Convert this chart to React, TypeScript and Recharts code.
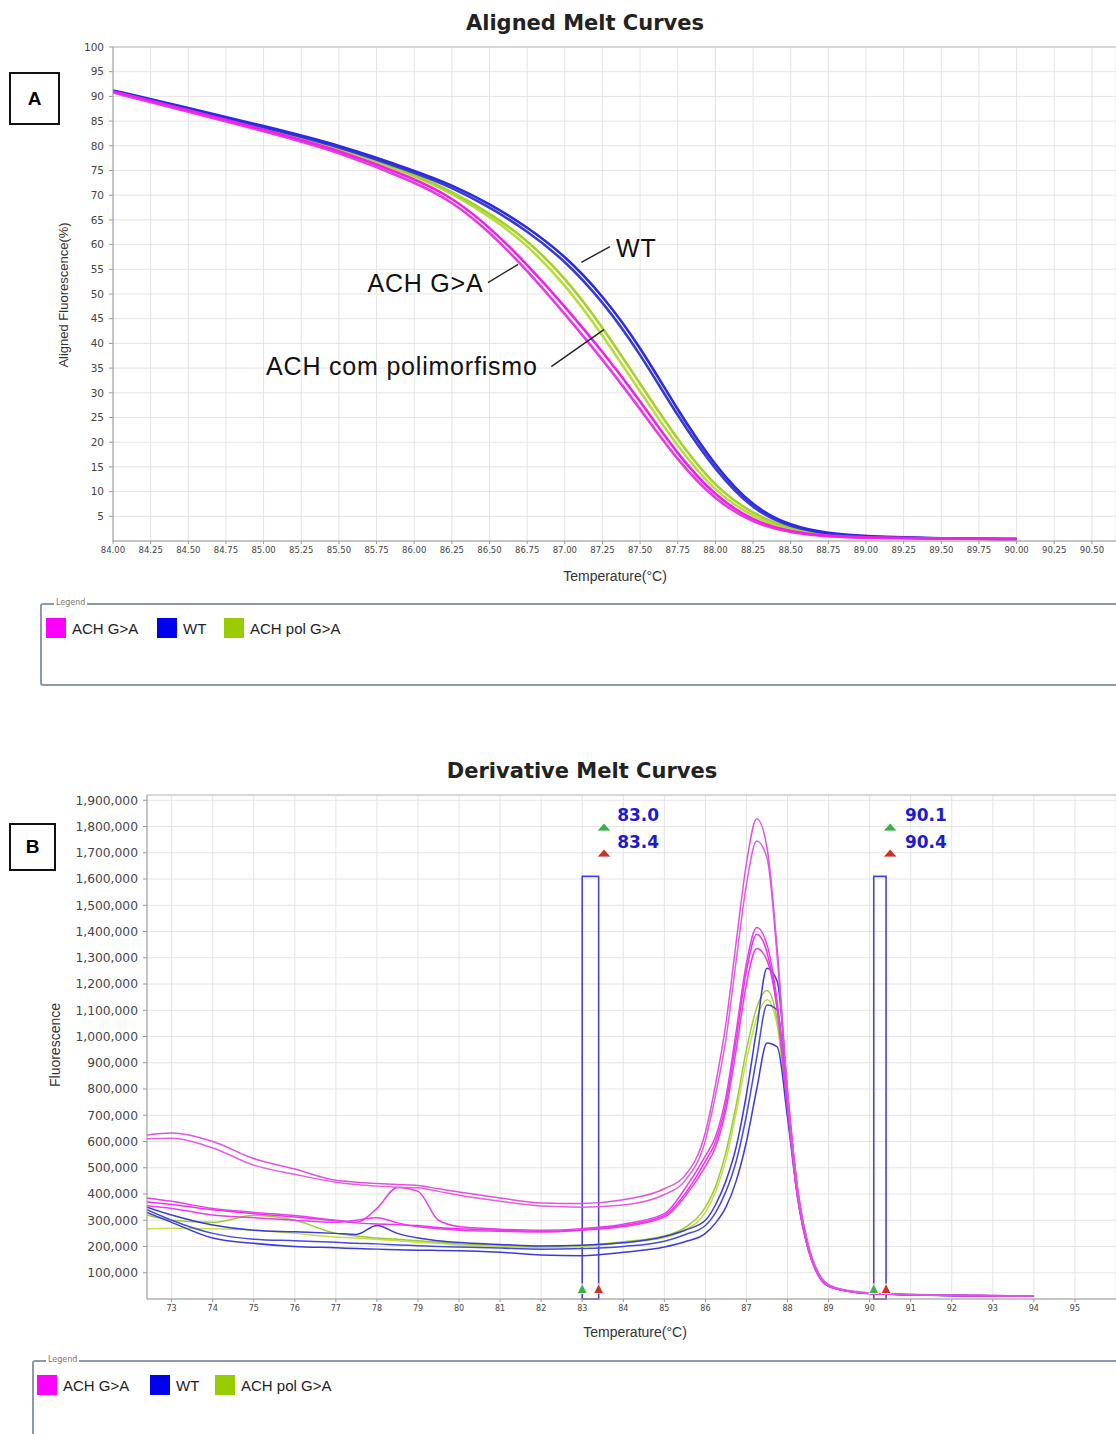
import React from "react";
import {
  LineChart,
  Line,
  XAxis,
  YAxis,
  CartesianGrid,
  ReferenceLine,
  ReferenceDot,
  ReferenceArea,
} from "recharts";

const TICK_FONT = "'DejaVu Sans', Verdana, sans-serif";
const TEXT_FONT = "'Liberation Sans', Arial, sans-serif";

const MAGENTA = "#ee22e6";
const BLUE = "#2b2be0";
const GREEN = "#a4d22a";
const MAGENTA_B = "#e640e6";
const BLUE_B = "#3c3cd4";
const GREEN_B = "#9ccc30";

// ---------- A: aligned melt curves (%) ----------
const alignedTemps = [84, 84.5, 85, 85.5, 86, 86.25, 86.5, 86.75, 87, 87.25, 87.5, 87.75, 88, 88.25, 88.5, 88.75, 89, 89.5, 90];
const alignedAch1 = [91.0, 87.2, 83.3, 79.2, 73.4, 69.6, 63.6, 56.0, 47.5, 38.4, 28.4, 17.4, 9.0, 4.0, 1.8, 1.0, 0.7, 0.5, 0.4];
const alignedAch2 = [90.8, 86.9, 83.0, 78.8, 72.7, 68.8, 62.6, 54.8, 46.0, 36.8, 26.8, 16.2, 8.2, 3.6, 1.6, 0.9, 0.6, 0.5, 0.4];
const alignedWt1 = [91.2, 87.7, 84.0, 80.2, 75.0, 72.1, 68.3, 63.6, 57.8, 49.8, 39.4, 26.4, 15.0, 6.8, 3.0, 1.5, 0.9, 0.5, 0.4];
const alignedWt2 = [91.0, 87.5, 83.8, 79.9, 74.6, 71.6, 67.6, 62.8, 56.8, 48.6, 38.0, 25.2, 14.2, 6.2, 2.7, 1.4, 0.8, 0.5, 0.4];
const alignedPol1 = [91.0, 87.4, 83.7, 79.8, 74.2, 70.8, 66.4, 61.0, 53.4, 43.4, 31.8, 20.4, 10.8, 5.4, 2.3, 1.1, 0.7, 0.5, 0.4];
const alignedPol2 = [90.9, 87.3, 83.6, 79.6, 74.0, 70.4, 65.8, 60.0, 52.0, 41.8, 30.2, 19.0, 9.8, 4.8, 2.0, 1.0, 0.7, 0.5, 0.4];

const alignedXTicks = [84, 84.25, 84.5, 84.75, 85, 85.25, 85.5, 85.75, 86, 86.25, 86.5, 86.75, 87, 87.25, 87.5, 87.75, 88, 88.25, 88.5, 88.75, 89, 89.25, 89.5, 89.75, 90, 90.25, 90.5];
const alignedYTicks = [5, 10, 15, 20, 25, 30, 35, 40, 45, 50, 55, 60, 65, 70, 75, 80, 85, 90, 95, 100];

// ---------- B: derivative melt curves (values in thousands) ----------
const derivTemps = [72.4, 73, 74, 75, 76, 77, 77.5, 78, 78.5, 79, 79.5, 80, 81, 82, 83, 84, 85, 85.5, 86, 86.25, 86.5, 86.75, 87, 87.25, 87.5, 87.75, 88, 88.25, 88.5, 88.75, 89, 89.5, 90, 91, 92, 93, 94];
const derivAch1 = [625, 632, 600, 535, 495, 452, 445, 440, 436, 432, 420, 408, 385, 366, 364, 378, 420, 470, 635, 820, 1050, 1360, 1660, 1830, 1720, 1330, 800, 420, 210, 100, 55, 32, 24, 18, 15, 13, 12];
const derivAch2 = [610, 612, 575, 510, 475, 445, 436, 430, 426, 424, 410, 395, 372, 354, 350, 358, 398, 450, 605, 780, 990, 1290, 1580, 1745, 1680, 1300, 790, 410, 205, 98, 54, 31, 23, 17, 14, 13, 12];
const derivAch3 = [385, 372, 345, 330, 318, 300, 292, 345, 425, 410, 300, 276, 266, 262, 268, 285, 325, 420, 545, 620, 770, 1020, 1280, 1415, 1350, 1130, 740, 390, 195, 92, 50, 30, 22, 16, 14, 12, 11];
const derivAch4 = [370, 360, 340, 325, 312, 298, 290, 286, 283, 280, 272, 268, 262, 258, 264, 280, 318, 400, 525, 600, 745, 990, 1250, 1390, 1320, 1110, 730, 385, 192, 90, 49, 29, 21, 16, 13, 12, 11];
const derivAch5 = [355, 345, 320, 310, 300, 292, 300, 310, 290, 275, 268, 262, 258, 255, 262, 276, 312, 390, 505, 580, 720, 950, 1200, 1335, 1290, 1100, 725, 382, 190, 89, 48, 29, 21, 16, 13, 12, 11];
const derivWt1 = [350, 320, 282, 262, 256, 250, 246, 280, 250, 232, 222, 215, 208, 202, 205, 214, 238, 262, 300, 360, 450, 580, 780, 1030, 1260, 1210, 780, 410, 205, 98, 52, 30, 22, 16, 13, 12, 11];
const derivWt2 = [340, 300, 250, 228, 222, 216, 212, 210, 206, 203, 200, 198, 194, 190, 192, 200, 220, 245, 280, 330, 410, 525, 700, 920, 1120, 1100, 740, 395, 198, 95, 50, 30, 22, 16, 13, 12, 11];
const derivWt3 = [330, 292, 232, 212, 200, 195, 192, 190, 188, 186, 185, 184, 178, 168, 165, 178, 198, 218, 250, 290, 350, 450, 600, 800, 975, 960, 690, 380, 192, 92, 49, 29, 21, 16, 13, 12, 11];
const derivPol1 = [320, 300, 292, 318, 300, 250, 240, 232, 228, 222, 216, 210, 205, 200, 204, 218, 240, 272, 350, 430, 560, 740, 950, 1110, 1175, 1060, 720, 390, 196, 94, 50, 30, 22, 16, 13, 12, 11];
const derivPol2 = [268, 270, 268, 262, 250, 236, 232, 228, 222, 216, 212, 206, 200, 196, 200, 214, 234, 262, 330, 410, 530, 710, 910, 1070, 1140, 1040, 710, 385, 194, 93, 50, 30, 22, 16, 13, 12, 11];

const derivXTicks = [73, 74, 75, 76, 77, 78, 79, 80, 81, 82, 83, 84, 85, 86, 87, 88, 89, 90, 91, 92, 93, 94, 95];
const derivYTicks = [100000, 200000, 300000, 400000, 500000, 600000, 700000, 800000, 900000, 1000000, 1100000, 1200000, 1300000, 1400000, 1500000, 1600000, 1700000, 1800000, 1900000];

const legendLabels = ["ACH G>A", "WT", "ACH pol G>A"];

const alignedData = alignedTemps.map((t, i) => ({
  t,
  a1: alignedAch1[i],
  a2: alignedAch2[i],
  w1: alignedWt1[i],
  w2: alignedWt2[i],
  p1: alignedPol1[i],
  p2: alignedPol2[i],
}));

const derivData = derivTemps.map((t, i) => ({
  t,
  a1: derivAch1[i] * 1000,
  a2: derivAch2[i] * 1000,
  a3: derivAch3[i] * 1000,
  a4: derivAch4[i] * 1000,
  a5: derivAch5[i] * 1000,
  w1: derivWt1[i] * 1000,
  w2: derivWt2[i] * 1000,
  w3: derivWt3[i] * 1000,
  p1: derivPol1[i] * 1000,
  p2: derivPol2[i] * 1000,
}));

const alignedSeries = [
  { key: "p2", color: "#b8dc3c" },
  { key: "p1", color: GREEN },
  { key: "w2", color: "#3b3bd0" },
  { key: "w1", color: BLUE },
  { key: "a2", color: "#e83ae8" },
  { key: "a1", color: MAGENTA },
];

const derivSeries = [
  { key: "p2", color: "#c2e04a" },
  { key: "p1", color: GREEN_B },
  { key: "w3", color: BLUE_B },
  { key: "w2", color: "#4a4ad8" },
  { key: "w1", color: BLUE_B },
  { key: "a5", color: MAGENTA_B },
  { key: "a4", color: "#f030f0" },
  { key: "a3", color: MAGENTA_B },
  { key: "a2", color: "#e060e0" },
  { key: "a1", color: "#dd55dd" },
];

// text drawn at a data point
const textShape = (label: string, size: number, anchor: string, color = "#111", weight = "normal", spacing = 0) =>
  (p: any) => (
    <text
      x={p.cx}
      y={p.cy}
      fontSize={size}
      fontFamily={weight === "bold" ? TICK_FONT : TEXT_FONT}
      fontWeight={weight}
      fill={color}
      letterSpacing={spacing}
      textAnchor={anchor}
      dominantBaseline="central"
    >
      {label}
    </text>
  );

const triShape = (color: string, w = 7, h = 4) => (p: any) => (
  <path
    d={`M${p.cx - w},${p.cy + h} L${p.cx},${p.cy - h} L${p.cx + w},${p.cy + h} Z`}
    fill={color}
    stroke="#ffffff"
    strokeWidth={0.8}
  />
);

function AlignedChart() {
  return (
    <LineChart
      width={1116}
      height={600}
      data={alignedData}
      margin={{ top: 47, right: 0, bottom: 29, left: 53 }}
    >
      <CartesianGrid stroke="#e4e4e4" />
      <XAxis
        type="number"
        dataKey="t"
        domain={[84, 90.66]}
        ticks={alignedXTicks}
        interval={0}
        tickFormatter={(v: number) => v.toFixed(2)}
        tick={{ fontSize: 8.5, fill: "#444", fontFamily: TICK_FONT }}
        tickSize={3}
        tickMargin={3}
        stroke="#9a9a9a"
        height={30}
        allowDataOverflow
      />
      <YAxis
        type="number"
        domain={[0, 100]}
        ticks={alignedYTicks}
        interval={0}
        width={60}
        tickSize={4}
        tickMargin={5}
        tick={{ fontSize: 10.5, fill: "#444", fontFamily: TICK_FONT }}
        stroke="#9a9a9a"
      />
      <ReferenceLine y={100} stroke="#bdbdbd" />
      {alignedSeries.map((s) => (
        <Line
          key={s.key}
          type="basis"
          dataKey={s.key}
          stroke={s.color}
          strokeWidth={2.6}
          dot={false}
          activeDot={false}
          isAnimationActive={false}
        />
      ))}
      <ReferenceLine segment={[{ x: 87.11, y: 56.4 }, { x: 87.3, y: 59.6 }]} stroke="#222" strokeWidth={1.4} />
      <ReferenceLine segment={[{ x: 86.49, y: 52.3 }, { x: 86.69, y: 56.0 }]} stroke="#222" strokeWidth={1.4} />
      <ReferenceLine segment={[{ x: 86.91, y: 35.3 }, { x: 87.26, y: 42.8 }]} stroke="#222" strokeWidth={1.4} />
      <ReferenceDot x={87.34} y={59.4} r={0} shape={textShape("WT", 25, "start", "#111", "normal", 0.8)} />
      <ReferenceDot x={86.46} y={52.3} r={0} shape={textShape("ACH G>A", 25, "end", "#111", "normal", 0.8)} />
      <ReferenceDot x={86.82} y={35.5} r={0} shape={textShape("ACH com polimorfismo", 25, "end", "#111", "normal", 0.8)} />
    </LineChart>
  );
}

function DerivativeChart() {
  return (
    <LineChart
      width={1116}
      height={620}
      data={derivData}
      margin={{ top: 55, right: 0, bottom: 31, left: 77 }}
    >
      <CartesianGrid stroke="#e4e4e4" />
      <XAxis
        type="number"
        dataKey="t"
        domain={[72.4, 96]}
        ticks={derivXTicks}
        interval={0}
        tick={{ fontSize: 8, fill: "#444", fontFamily: TICK_FONT }}
        tickSize={3}
        tickMargin={3}
        stroke="#9a9a9a"
        height={30}
        allowDataOverflow
      />
      <YAxis
        type="number"
        domain={[0, 1920000]}
        ticks={derivYTicks}
        interval={0}
        width={70}
        tickSize={4}
        tickMargin={5}
        tickFormatter={(v: number) => v.toLocaleString("en-US")}
        tick={{ fontSize: 12.3, fill: "#444", fontFamily: TICK_FONT }}
        stroke="#9a9a9a"
      />
      <ReferenceLine y={1920000} stroke="#bdbdbd" />
      {derivSeries.map((s) => (
        <Line
          key={s.key}
          type="monotone"
          dataKey={s.key}
          stroke={s.color}
          strokeWidth={1.5}
          dot={false}
          activeDot={false}
          isAnimationActive={false}
        />
      ))}
      <ReferenceArea x1={83.0} x2={83.4} y1={0} y2={1610000} fill="none" stroke="#4646cc" strokeWidth={1.6} ifOverflow="visible" />
      <ReferenceArea x1={90.1} x2={90.4} y1={0} y2={1610000} fill="none" stroke="#4646cc" strokeWidth={1.6} ifOverflow="visible" />
      <ReferenceDot x={83.53} y={1798000} r={0} shape={triShape("#3fae4a")} />
      <ReferenceDot x={83.53} y={1699000} r={0} shape={triShape("#c8342c")} />
      <ReferenceDot x={90.5} y={1798000} r={0} shape={triShape("#3fae4a")} />
      <ReferenceDot x={90.5} y={1699000} r={0} shape={triShape("#c8342c")} />
      <ReferenceDot x={83.0} y={40000} r={0} ifOverflow="visible" shape={triShape("#3fae4a", 5, 5)} />
      <ReferenceDot x={83.4} y={40000} r={0} ifOverflow="visible" shape={triShape("#c8342c", 5, 5)} />
      <ReferenceDot x={90.1} y={40000} r={0} ifOverflow="visible" shape={triShape("#3fae4a", 5, 5)} />
      <ReferenceDot x={90.4} y={40000} r={0} ifOverflow="visible" shape={triShape("#c8342c", 5, 5)} />
      <ReferenceDot x={83.85} y={1844000} r={0} shape={textShape("83.0", 17, "start", "#1c1ccc", "bold")} />
      <ReferenceDot x={83.85} y={1741000} r={0} shape={textShape("83.4", 17, "start", "#1c1ccc", "bold")} />
      <ReferenceDot x={90.86} y={1844000} r={0} shape={textShape("90.1", 17, "start", "#1c1ccc", "bold")} />
      <ReferenceDot x={90.86} y={1741000} r={0} shape={textShape("90.4", 17, "start", "#1c1ccc", "bold")} />
    </LineChart>
  );
}

function LegendBox({ left, top, height, squareGap }: { left: number; top: number; height: number; squareGap: number[] }) {
  const colors = ["#ff00ff", "#0000ee", "#99cc00"];
  return (
    <div
      style={{
        position: "absolute",
        left,
        top,
        width: 1116 - left + 20,
        height,
        border: "2px solid #8a9aac",
        borderRadius: 3,
        boxSizing: "border-box",
      }}
    >
      <span
        style={{
          position: "absolute",
          left: 12,
          top: -7,
          fontSize: 8,
          fontFamily: TICK_FONT,
          color: "#777",
          background: "#fff",
          padding: "0 2px",
        }}
      >
        Legend
      </span>
      {legendLabels.map((lab, i) => (
        <div
          key={lab}
          style={{ position: "absolute", left: squareGap[i], top: 13, display: "flex", alignItems: "center" }}
        >
          <div style={{ width: 20, height: 20, background: colors[i], marginRight: 6 }} />
          <span style={{ fontSize: 15, fontFamily: TEXT_FONT, color: "#222" }}>{lab}</span>
        </div>
      ))}
    </div>
  );
}

const boxStyle: React.CSSProperties = {
  position: "absolute",
  border: "2px solid #111",
  boxSizing: "border-box",
  display: "flex",
  alignItems: "center",
  justifyContent: "center",
  fontFamily: TEXT_FONT,
  fontWeight: "bold",
  fontSize: 19,
  background: "#fff",
};

const titleStyle: React.CSSProperties = {
  position: "absolute",
  width: 600,
  textAlign: "center",
  fontFamily: TICK_FONT,
  fontWeight: "bold",
  fontSize: 21,
  color: "#222",
};

const axisLabel: React.CSSProperties = {
  position: "absolute",
  fontFamily: TEXT_FONT,
  fontSize: 14,
  color: "#333",
  whiteSpace: "nowrap",
};

export default function App() {
  return (
    <div style={{ position: "absolute", left: 0, top: 0, width: 1116, height: 1434, overflow: "hidden", background: "#fff" }}>
      {/* panel A */}
      <div style={{ ...titleStyle, left: 285, top: 11 }}>Aligned Melt Curves</div>
      <div style={{ position: "absolute", left: 0, top: 0 }}>
        <AlignedChart />
      </div>
      <div style={{ ...boxStyle, left: 9, top: 72, width: 51, height: 53 }}>A</div>
      <div style={{ ...axisLabel, fontSize: 13, left: 63, top: 295, transform: "translate(-50%, -50%) rotate(-90deg)" }}>
        Aligned Fluorescence(%)
      </div>
      <div style={{ ...axisLabel, left: 615, top: 576, transform: "translate(-50%, -50%)" }}>Temperature(°C)</div>
      <LegendBox left={40} top={603} height={83} squareGap={[4, 115, 182]} />

      {/* panel B */}
      <div style={{ ...titleStyle, left: 282, top: 759 }}>Derivative Melt Curves</div>
      <div style={{ position: "absolute", left: 0, top: 740 }}>
        <DerivativeChart />
      </div>
      <div style={{ ...boxStyle, left: 9, top: 823, width: 47, height: 48 }}>B</div>
      <div style={{ ...axisLabel, left: 55, top: 1045, transform: "translate(-50%, -50%) rotate(-90deg)" }}>
        Fluorescence
      </div>
      <div style={{ ...axisLabel, left: 635, top: 1332, transform: "translate(-50%, -50%)" }}>Temperature(°C)</div>
      <LegendBox left={32} top={1360} height={100} squareGap={[3, 116, 181]} />
    </div>
  );
}
